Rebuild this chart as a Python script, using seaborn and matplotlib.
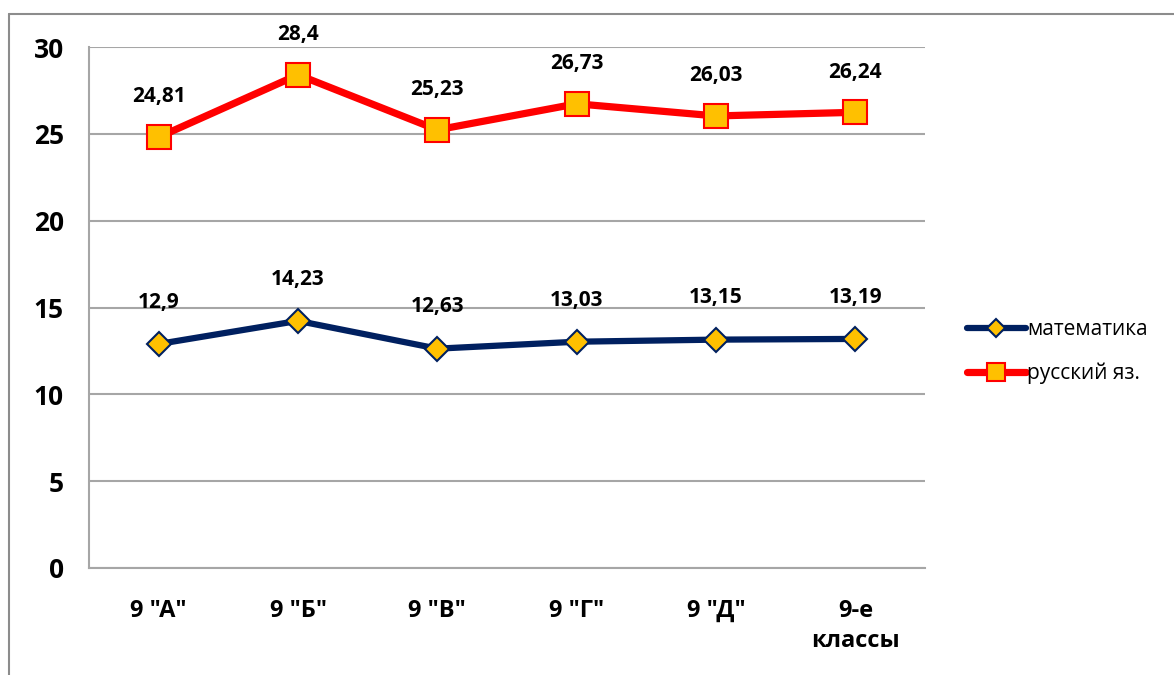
import pandas as pd
import matplotlib.pyplot as plt
import seaborn as sns
from matplotlib.lines import Line2D

sns.set_theme(style="white")
plt.rcParams['font.family'] = ['Open Sans', 'DejaVu Sans']
plt.rcParams['text.color'] = 'black'
plt.rcParams['xtick.color'] = 'black'
plt.rcParams['ytick.color'] = 'black'

# data
classes = ['9 "А"', '9 "Б"', '9 "В"', '9 "Г"', '9 "Д"', '9-е\nклассы']
math_vals = [12.9, 14.23, 12.63, 13.03, 13.15, 13.19]
rus_vals = [24.81, 28.4, 25.23, 26.73, 26.03, 26.24]
math_labels = ['12,9', '14,23', '12,63', '13,03', '13,15', '13,19']
rus_labels = ['24,81', '28,4', '25,23', '26,73', '26,03', '26,24']

df = pd.DataFrame({'x': range(len(classes)), 'math': math_vals, 'rus': rus_vals})

fig = plt.figure(figsize=(11.74, 6.75), dpi=100)
ax = fig.add_axes([89 / 1174, 1 - 568 / 675, (925 - 89) / 1174, (568 - 47) / 675])

grid_col = '#A6A6A6'
sns.lineplot(data=df, x='x', y='math', ax=ax, color='#002060', linewidth=4.5,
             marker='D', markersize=12, markerfacecolor='#FFC000',
             markeredgecolor='#002060', markeredgewidth=1.5, label='математика', zorder=3)
sns.lineplot(data=df, x='x', y='rus', ax=ax, color='#FF0000', linewidth=5.2,
             marker='s', markersize=17, markerfacecolor='#FFC000',
             markeredgecolor='#FF0000', markeredgewidth=1.5, label='русский яз.', zorder=3)

# data labels
for i in range(len(classes)):
    ax.annotate(math_labels[i], (i, math_vals[i]), xytext=(0, 30), textcoords='offset points',
                ha='center', va='center', fontsize=15, fontweight='bold')
    ax.annotate(rus_labels[i], (i, rus_vals[i]), xytext=(0, 29), textcoords='offset points',
                ha='center', va='center', fontsize=15, fontweight='bold')

ax.set_xlim(-0.5, len(classes) - 0.5)
ax.set_ylim(0, 30)
ax.set_yticks(range(0, 31, 5))
ax.set_xticks(range(len(classes)))
ax.set_xticklabels(classes, fontsize=17, fontweight='bold', va='top', linespacing=1.35)
ax.set_xticks([i - 0.5 for i in range(len(classes) + 1)], minor=True)
ax.tick_params(axis='x', which='major', length=0, pad=22)
ax.tick_params(axis='x', which='minor', length=8, color=grid_col, width=1.5, direction='out')
ax.tick_params(axis='y', length=8, color=grid_col, width=1.5, direction='out', pad=10, labelsize=19)
for lbl in ax.get_yticklabels():
    lbl.set_fontweight('bold')
ax.set_xlabel('')
ax.set_ylabel('')
ax.grid(axis='y', color=grid_col, linewidth=1.5)
ax.set_axisbelow(True)
for s in ['top', 'right']:
    ax.spines[s].set_visible(False)
for s in ['left', 'bottom']:
    ax.spines[s].set_color(grid_col)
    ax.spines[s].set_linewidth(1.5)

leg = ax.legend(loc='center left', bbox_to_anchor=(1.04, 0.415), frameon=False, fontsize=15,
                handlelength=2.85, handletextpad=0.05, labelspacing=1.1, borderaxespad=0,
                markerscale=0.75)

# chart border
fig.add_artist(Line2D([9 / 1174, 1], [1 - 14 / 675, 1 - 14 / 675], color='#8C8C8C', linewidth=1.5))
fig.add_artist(Line2D([9 / 1174, 9 / 1174], [0, 1 - 14 / 675], color='#8C8C8C', linewidth=1.5))

fig.savefig('out.png', dpi=100)
